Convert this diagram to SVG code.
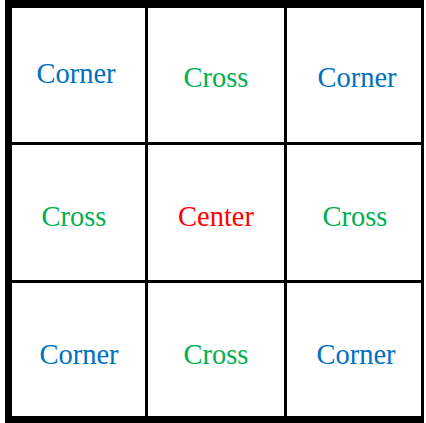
<svg xmlns="http://www.w3.org/2000/svg" width="426" height="423" viewBox="0 0 426 423">
<style>
.cell{fill:#fff}
text{font-family:"Liberation Serif","Times New Roman",serif;font-size:28.5px;text-anchor:middle}
.corner{fill:#0070C0}
.cross{fill:#00B050}
.center{fill:#FF0000}
</style>
<rect x="0" y="0" width="426" height="423" fill="#fff"/>
<g id="frame"><rect x="5" y="0" width="419" height="423" fill="#000"/></g>
<g id="c11"><rect class="cell" x="12" y="8" width="133" height="134"/><text class="corner" x="76" y="83">Corner</text></g>
<g id="c12"><rect class="cell" x="148" y="8" width="136" height="134"/><text class="cross" x="216" y="87">Cross</text></g>
<g id="c13"><rect class="cell" x="287" y="8" width="134" height="134"/><text class="corner" x="357" y="87">Corner</text></g>
<g id="c21"><rect class="cell" x="12" y="145" width="133" height="135"/><text class="cross" x="74" y="226">Cross</text></g>
<g id="c22"><rect class="cell" x="148" y="145" width="136" height="135"/><text class="center" x="216" y="226">Center</text></g>
<g id="c23"><rect class="cell" x="287" y="145" width="134" height="135"/><text class="cross" x="355" y="226">Cross</text></g>
<g id="c31"><rect class="cell" x="12" y="283" width="133" height="133"/><text class="corner" x="79" y="364">Corner</text></g>
<g id="c32"><rect class="cell" x="148" y="283" width="136" height="133"/><text class="cross" x="216" y="364">Cross</text></g>
<g id="c33"><rect class="cell" x="287" y="283" width="134" height="133"/><text class="corner" x="356" y="364">Corner</text></g>
<g id="connectors"></g>
</svg>
